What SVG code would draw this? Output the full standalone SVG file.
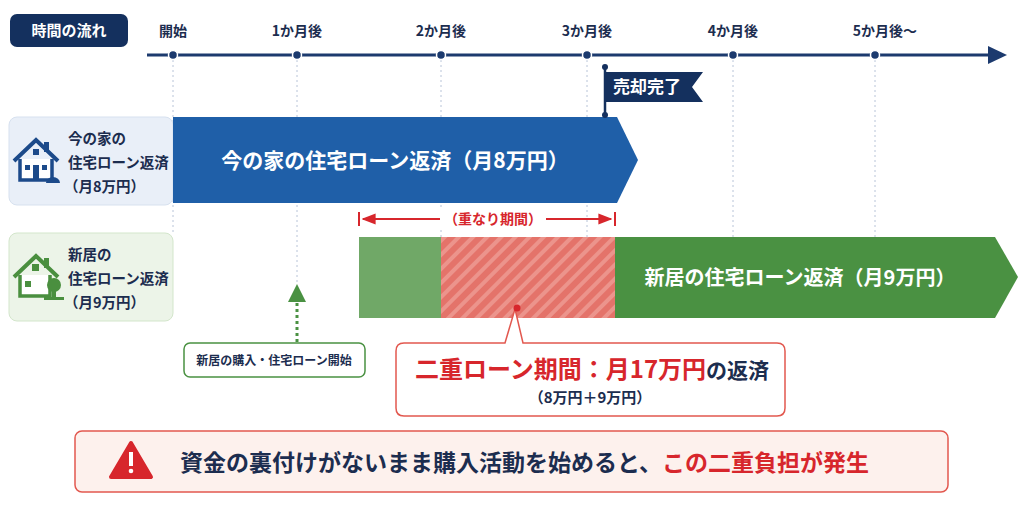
<svg xmlns="http://www.w3.org/2000/svg" width="1024" height="512" viewBox="0 0 1024 512">
<defs>
<style>
text{font-family:"Noto Sans CJK JP","Noto Sans",sans-serif;font-weight:bold}
.tick{font-size:14px;fill:#1c2d4f;text-anchor:middle}
.vl{stroke:#b8c4d8;stroke-width:1;stroke-dasharray:2 3}
.lbl{font-size:14.5px;fill:#1c2d4f}
</style>
<pattern id="hatch" patternUnits="userSpaceOnUse" width="10" height="10" patternTransform="rotate(45)">
<rect width="10" height="10" fill="#e4736a"/><rect width="4" height="10" fill="#ec948c"/>
</pattern>
<marker id="ra" viewBox="0 0 10 10" refX="9" refY="5" markerWidth="7" markerHeight="7" orient="auto-start-reverse"><path d="M0,1L10,5L0,9z" fill="#d7262c"/></marker>
</defs>
<rect width="1024" height="512" fill="#fff"/>
<g id="connectors">
<line class="vl" x1="173" y1="55" x2="173" y2="235"/>
<line class="vl" x1="297" y1="55" x2="297" y2="285"/>
<line class="vl" x1="441" y1="55" x2="441" y2="237"/>
<line class="vl" x1="587" y1="55" x2="587" y2="237"/>
<line class="vl" x1="733" y1="55" x2="733" y2="237"/>
<line class="vl" x1="875" y1="55" x2="875" y2="237"/>
<line x1="147" y1="55" x2="990" y2="55" stroke="#1c3a6e" stroke-width="3"/>
<path d="M988,46L1007,55L988,64z" fill="#1c3a6e"/>
<g fill="#1c3a6e" stroke="#fff" stroke-width="1.5">
<circle cx="173" cy="55" r="4.5"/><circle cx="297" cy="55" r="4.5"/><circle cx="441" cy="55" r="4.5"/><circle cx="587" cy="55" r="4.5"/><circle cx="733" cy="55" r="4.5"/><circle cx="875" cy="55" r="4.5"/>
</g>
<line x1="363" y1="219" x2="440" y2="219" stroke="#d7262c" stroke-width="2" marker-start="url(#ra)"/>
<line x1="545" y1="219" x2="611" y2="219" stroke="#d7262c" stroke-width="2" marker-end="url(#ra)"/>
<line x1="359" y1="212" x2="359" y2="226" stroke="#d7262c" stroke-width="2"/>
<line x1="615" y1="212" x2="615" y2="226" stroke="#d7262c" stroke-width="2"/>
<line x1="297" y1="342" x2="297" y2="302" stroke="#4a9142" stroke-width="3" stroke-dasharray="3 3"/>
<path d="M288,302L297,284L306,302z" fill="#4a9142"/>
</g>
<g id="header">
<rect x="10" y="14" width="118" height="33" rx="7" fill="#14305e"/>
<text x="69" y="36" font-size="15" fill="#fff" text-anchor="middle">時間の流れ</text>
<text class="tick" x="173" y="36">開始</text>
<text class="tick" x="297" y="36">1か月後</text>
<text class="tick" x="441" y="36">2か月後</text>
<text class="tick" x="587" y="36">3か月後</text>
<text class="tick" x="733" y="36">4か月後</text>
<text class="tick" x="885" y="36">5か月後～</text>
</g>
<g id="current-home">
<rect x="9" y="117" width="164" height="88" rx="8" fill="#e9eff8" stroke="#d7e1ef"/>
<path d="M20,159L20,180L52,180L52,159" fill="#fff" stroke="#1c4a8a" stroke-width="3.5"/>
<path d="M14,161L36,140L58,161" fill="none" stroke="#1c4a8a" stroke-width="4"/>
<rect x="44" y="142" width="5" height="10" fill="#1c4a8a"/>
<g fill="#1c4a8a"><rect x="33" y="149" width="6" height="6"/><rect x="25" y="165" width="5" height="5"/><rect x="42" y="165" width="5" height="5"/><rect x="33" y="165" width="6" height="14"/>
<path d="M46,183a7,6 0 0 1 14,0z"/></g>
<text class="lbl" x="68" y="144">今の家の</text>
<text class="lbl" x="68" y="168">住宅ローン返済</text>
<text class="lbl" x="64" y="192">（月8万円）</text>
<path d="M173,117L617,117L638,160L617,203L173,203z" fill="#1f5fa8"/>
<text x="395" y="168" font-size="21" fill="#fff" text-anchor="middle">今の家の住宅ローン返済（月8万円）</text>
</g>
<g id="sold-flag">
<line x1="605" y1="67" x2="605" y2="115" stroke="#14305e" stroke-width="2.5"/>
<circle cx="605" cy="67" r="3" fill="#14305e"/><circle cx="605" cy="115" r="3" fill="#14305e"/>
<path d="M605,72L703,72L692,87L703,102L605,102z" fill="#14305e"/>
<text x="647" y="93" font-size="17" fill="#fff" text-anchor="middle">売却完了</text>
</g>
<g id="new-home">
<rect x="9" y="233" width="164" height="88" rx="8" fill="#ecf4e8" stroke="#d3e6cb"/>
<path d="M20,275L20,296L50,296L50,275" fill="#fff" stroke="#4a8f3f" stroke-width="3.5"/>
<path d="M14,277L36,256L58,277" fill="none" stroke="#4a8f3f" stroke-width="4"/>
<g fill="#4a8f3f">
<rect x="44" y="258" width="5" height="10"/>
<rect x="32" y="264" width="7" height="7"/><rect x="25" y="281" width="6" height="6"/>
<circle cx="54" cy="285" r="7"/><rect x="52" y="288" width="4" height="12"/><rect x="44" y="297" width="20" height="3"/>
</g>
<text class="lbl" x="68" y="260">新居の</text>
<text class="lbl" x="68" y="284">住宅ローン返済</text>
<text class="lbl" x="64" y="308">（月9万円）</text>
<rect x="359" y="237" width="82" height="81" fill="#70a867"/>
<rect x="441" y="237" width="174" height="81" fill="url(#hatch)"/>
<path d="M615,237L995,237L1018,277L995,318L615,318z" fill="#4a9142"/>
<text x="800" y="285" font-size="20" fill="#fff" text-anchor="middle">新居の住宅ローン返済（月9万円）</text>
<rect x="440" y="209" width="106" height="20" fill="#fff"/>
<text x="493" y="224" font-size="14" fill="#d7262c" text-anchor="middle">（重なり期間）</text>
</g>
<g id="purchase-note">
<rect x="184" y="343" width="181" height="34" rx="6" fill="#fff" stroke="#4a9142" stroke-width="1.5"/>
<text x="274" y="365" font-size="12" fill="#1c2d4f" text-anchor="middle">新居の購入・住宅ローン開始</text>
</g>
<g id="double-loan">
<path d="M404,343L505,343L515,309L523,343L777,343Q785,343 785,351L785,408Q785,416 777,416L404,416Q396,416 396,408L396,351Q396,343 404,343z" fill="#fff" stroke="#e2584f" stroke-width="1.5"/>
<circle cx="517" cy="308" r="3.5" fill="#d7262c"/>
<text x="592" y="378" font-size="24" fill="#d7262c" text-anchor="middle">二重ローン期間：月17万円<tspan fill="#1c2d4f" font-size="21">の返済</tspan></text>
<text x="590" y="403" font-size="15" fill="#1c2d4f" text-anchor="middle">（8万円＋9万円）</text>
</g>
<g id="warning">
<rect x="75" y="431" width="873" height="61" rx="7" fill="#fdf1ed" stroke="#e2584f" stroke-width="1.5"/>
<path d="M131,443L151,477L111,477z" fill="#d7262c" stroke="#d7262c" stroke-width="4" stroke-linejoin="round"/>
<rect x="129" y="452" width="4" height="14" fill="#fff"/><circle cx="131" cy="471" r="2.3" fill="#fff"/>
<text x="180" y="471" font-size="23" fill="#1c2d4f">資金の裏付けがないまま購入活動を始めると、<tspan fill="#d7262c">この二重負担が発生</tspan></text>
</g>
</svg>
